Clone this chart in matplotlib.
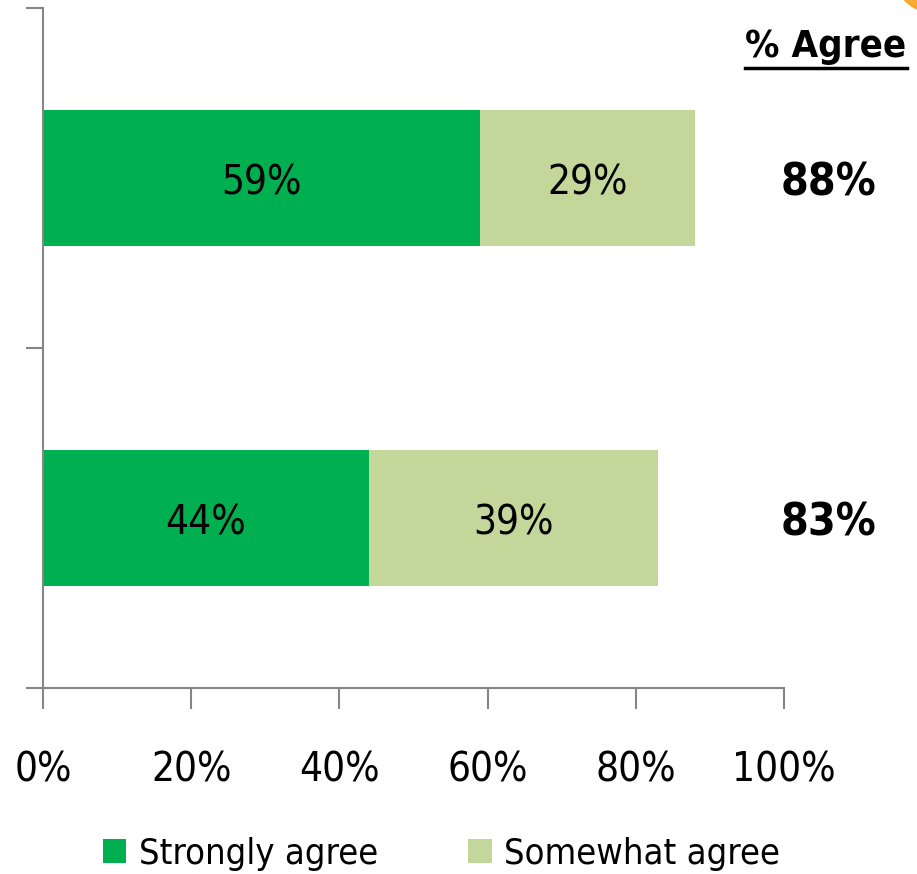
import numpy as np
import matplotlib.pyplot as plt
from matplotlib.patches import Wedge

plt.rcParams['font.family'] = ['DejaVu Sans']
plt.rcParams['font.stretch'] = 'condensed'

# stacked bars, top row first
groups = ['Group A', 'Group B']
strongly = [59, 44]
somewhat = [29, 39]
totals = [88, 83]
xticks = [0, 20, 40, 60, 80, 100]

green = '#00B050'
light = '#C4D79B'
grey = '#868686'

fig = plt.figure(figsize=(9.17, 8.74), dpi=100)
ax = fig.add_axes([43 / 917, 1 - 688 / 874, (784 - 43) / 917, (688 - 8) / 874])

ypos = np.array([1, 0])
b1 = ax.barh(ypos, strongly, height=0.4, color=green, label='Strongly agree')
b2 = ax.barh(ypos, somewhat, left=strongly, height=0.4, color=light, label='Somewhat agree')

for y, s, w in zip(ypos, strongly, somewhat):
    ax.text(s / 2, y - 0.015, f'{s}%', ha='center', va='center', fontsize=29)
    ax.text(s + w / 2, y - 0.015, f'{w}%', ha='center', va='center', fontsize=29)

for y, t in zip(ypos, totals):
    ax.text(106, y - 0.015, f'{t}%', ha='center', va='center', fontsize=32,
            fontweight='bold', clip_on=False)

ax.set_xlim(0, 100)
ax.set_ylim(-0.5, 1.5)
ax.set_xticks(xticks)
ax.set_xticklabels([f'{v}%' for v in xticks], fontsize=29)
ax.set_yticks([-0.5, 0.5, 1.5])
ax.set_yticklabels([])
ax.tick_params(axis='x', length=15, color=grey, width=1.5, pad=30)
ax.tick_params(axis='y', length=12, color=grey, width=1.5)
for side in ['top', 'right']:
    ax.spines[side].set_visible(False)
for side in ['left', 'bottom']:
    ax.spines[side].set_color(grey)
    ax.spines[side].set_linewidth(1.5)

# header with underline
hdr = fig.text(826 / 917, 1 - 47 / 874, '% Agree', ha='center', va='center',
               fontsize=27.5, fontweight='bold')
fig.canvas.draw()
bb = hdr.get_window_extent().transformed(fig.transFigure.inverted())
fig.add_artist(plt.Line2D([bb.x0, bb.x1], [bb.y0 - 0.004, bb.y0 - 0.004],
                          transform=fig.transFigure, color='black', lw=2.5))

# orange corner decoration
fig.add_artist(Wedge((1.02, 1.03), 0.045, 180, 270, transform=fig.transFigure,
                     color='#F7A21B', alpha=0.9))

fig.legend(handles=[b1, b2], loc='center', bbox_to_anchor=(0.4815, 1 - 854 / 874),
           ncol=2, frameon=False, fontsize=26, handlelength=0.65, handleheight=0.65,
           columnspacing=2.5, handletextpad=0.35)

fig.savefig('out.png', dpi=100)
